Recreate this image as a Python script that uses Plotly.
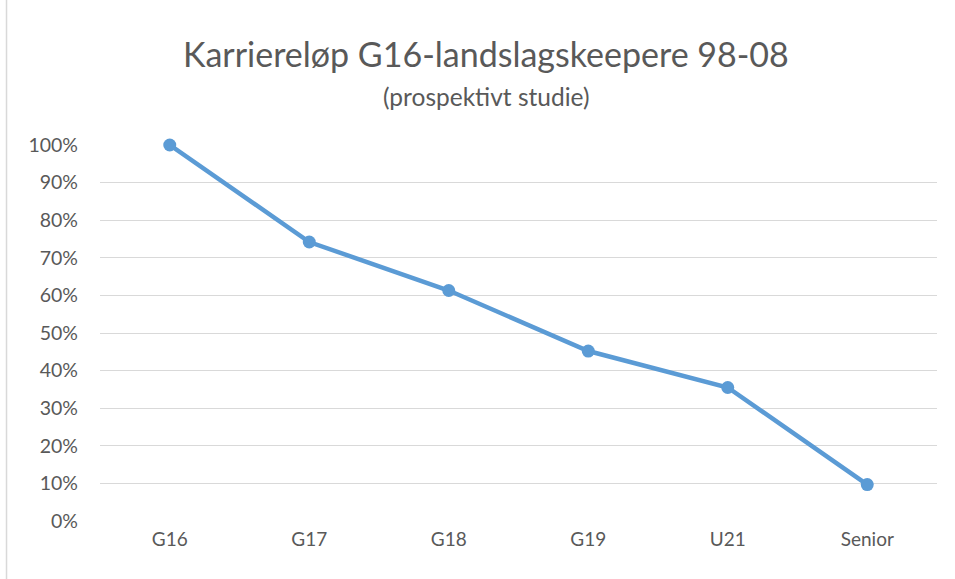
import plotly.graph_objects as go

categories = ["G16", "G17", "G18", "G19", "U21", "Senior"]
share = [1.0, 0.742, 0.613, 0.452, 0.355, 0.097]
y_ticks = [i / 10 for i in range(11)]
y_ticklabels = [f"{i * 10}%" for i in range(11)]

title = "Karriereløp G16-landslagskeepere 98-08"
subtitle = "(prospektivt studie)"

font_name = "Lato"
grey = "#595959"
blue = "#5B9BD5"

fig = go.Figure(
    data=[go.Scatter(
        x=categories, y=share, mode="lines+markers",
        line=dict(color=blue, width=4.5),
        marker=dict(color=blue, size=13),
        cliponaxis=False, showlegend=False,
    )]
)

fig.update_layout(
    width=955, height=579,
    margin=dict(l=100, r=18, t=145, b=58),
    paper_bgcolor="white", plot_bgcolor="white",
    font=dict(family=font_name, color=grey, size=19),
    xaxis=dict(type="category", range=[-0.5, 5.5], showgrid=False, zeroline=False,
               showline=False, ticks="", ticklabelstandoff=5,
               tickfont=dict(size=19, color=grey)),
    yaxis=dict(range=[0, 1], tickvals=y_ticks, ticktext=y_ticklabels,
               showgrid=True, gridcolor="#d9d9d9", gridwidth=1.3,
               zeroline=False, showline=False, ticks="", ticklabelstandoff=21,
               tickfont=dict(size=19.5, color=grey)),
    annotations=[
        dict(text=title, xref="paper", yref="paper", x=0.461, y=1.244,
             xanchor="center", yanchor="middle", showarrow=False,
             font=dict(size=34, color=grey, family=font_name)),
        dict(text=subtitle, xref="paper", yref="paper", x=0.461, y=1.13,
             xanchor="center", yanchor="middle", showarrow=False,
             font=dict(size=24.5, color=grey, family=font_name)),
    ],
    # thin chart-area border on the left edge
    shapes=[dict(type="line", xref="paper", yref="paper",
                 x0=-0.1117, x1=-0.1117, y0=-0.16, y1=1.39,
                 line=dict(color="#d9d9d9", width=1.5))],
)

fig.write_html("out.html", config={"displayModeBar": False},
               post_script="document.body.style.margin='0';")
